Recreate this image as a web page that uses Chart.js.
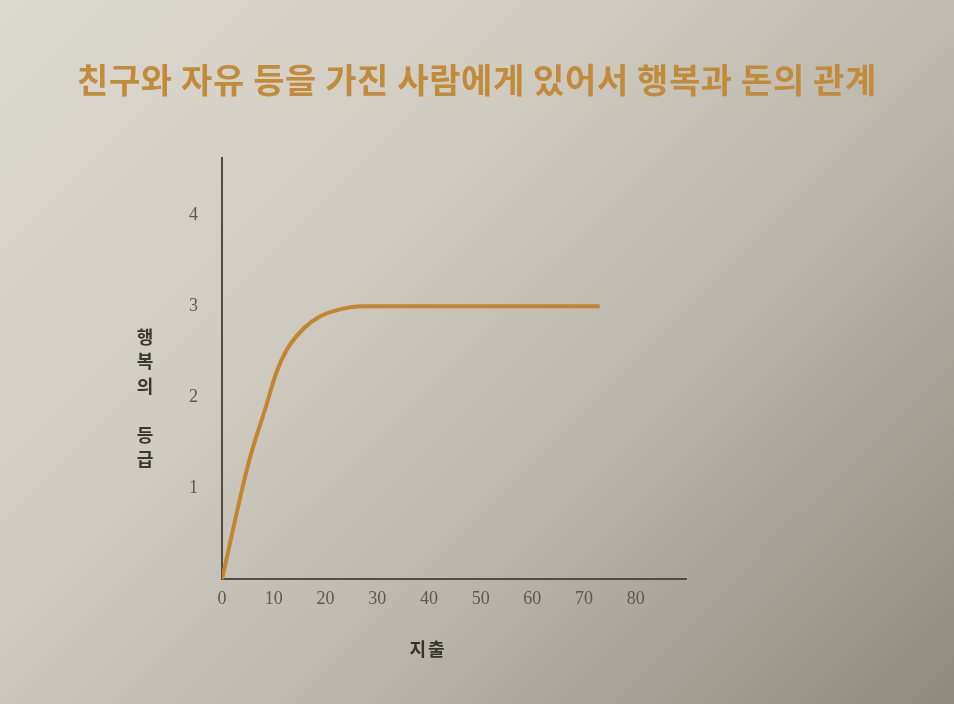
<!DOCTYPE html>
<html><head><meta charset="utf-8">
<script src="https://cdn.jsdelivr.net/npm/chart.js@4/dist/chart.umd.min.js"></script>
<style>
html,body{margin:0;padding:0;width:954px;height:704px;overflow:hidden;}
body{background:linear-gradient(135deg,#dcd9d0 0%,#d0ccc2 35%,#bbb7ac 62%,#8f8a7e 100%);position:relative;}
#wrap{position:absolute;left:0;top:0;width:954px;height:704px;}
#title{position:absolute;left:0;top:59px;width:954px;text-align:center;font-family:"Noto Sans CJK KR";font-weight:700;font-size:34px;letter-spacing:0.6px;color:#c28b3a;line-height:1.2;margin:0;}
#ytitle{position:absolute;left:136px;top:328px;writing-mode:vertical-rl;text-orientation:upright;font-family:"Noto Sans CJK KR";font-weight:700;font-size:18px;color:#3a3833;letter-spacing:6.5px;line-height:1;}
#xtitle{position:absolute;left:378px;top:638px;width:100px;text-align:center;font-family:"Noto Sans CJK KR";font-weight:700;font-size:18px;color:#35332e;letter-spacing:2px;line-height:1.2;}
</style></head><body>
<div id="wrap"><canvas id="c" width="954" height="704"></canvas></div>
<div id="title"></div>
<div id="ytitle"></div>
<div id="xtitle"></div>
<script>
const chartTitle = "친구와 자유 등을 가진 사람에게 있어서 행복과 돈의 관계";
const yTitle = "행복의 등급";
const xTitle = "지출";
const spending = [0, 5, 8.5, 10.5, 12.5, 15.5, 19, 23, 27, 73];
const happiness = [0, 1.25, 1.9, 2.27, 2.52, 2.74, 2.89, 2.97, 3.0, 3.0];
const xTicks = [0, 10, 20, 30, 40, 50, 60, 70, 80];
const yTicks = [1, 2, 3, 4];

document.getElementById('title').textContent = chartTitle;
document.getElementById('ytitle').textContent = yTitle;
document.getElementById('xtitle').textContent = xTitle;

const points = spending.map((x, i) => ({x: x, y: happiness[i]}));

new Chart(document.getElementById('c'), {
  type: 'line',
  data: { datasets: [{
    data: points,
    borderColor: '#c4852f',
    borderWidth: 4,
    pointRadius: 0,
    cubicInterpolationMode: 'monotone',
    fill: false
  }]},
  options: {
    responsive: false,
    animation: false,
    layout: { padding: { left: 165, right: 268, top: 158, bottom: 85 } },
    plugins: {
      legend: { display: false },
      tooltip: { enabled: false },
      title: { display: false }
    },
    scales: {
      x: {
        type: 'linear', min: 0, max: 89.7,
        afterBuildTicks: a => { a.ticks = xTicks.map(v => ({value: v})); },
        grid: { display: false, drawTicks: false },
        border: { display: true, color: '#4f4d47', width: 2 },
        ticks: { color: '#5c5952', padding: 9, font: { family: '"Liberation Serif"', size: 18 }, maxRotation: 0 },
        title: { display: false }
      },
      y: {
        type: 'linear', min: 0, max: 4.63,
        afterBuildTicks: a => { a.ticks = yTicks.map(v => ({value: v})); },
        grid: { display: false, drawTicks: false },
        border: { display: true, color: '#4f4d47', width: 2 },
        ticks: { color: '#5c5952', padding: 24, font: { family: '"Liberation Serif"', size: 18 } }
      }
    }
  }
});
</script>
</body></html>
